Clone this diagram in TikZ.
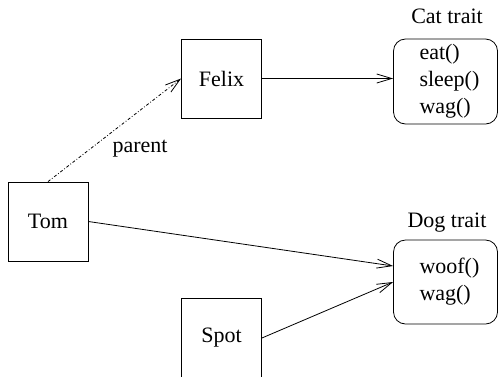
\documentclass[tikz,border=0pt]{standalone}
\usepackage{fontspec}
\setmainfont{Liberation Serif}
\usetikzlibrary{arrows.meta}
\begin{document}
\begin{tikzpicture}[x=1bp,y=-1bp,
  every node/.style={font=\fontsize{22bp}{27bp}\selectfont},
  objbox/.style={draw,line width=0.8bp,minimum width=80bp,minimum height=79bp,inner sep=0pt},
  traitbox/.style={draw,line width=0.8bp,rounded corners=12bp,minimum width=104bp,inner sep=0pt,align=left},
  conn/.style={line width=0.8bp,-{Straight Barb[length=15bp,width=9bp,line width=0.8bp]}},
  lbl/.style={inner sep=0pt}]
\useasboundingbox (0,0) rectangle (498,376);
\node[objbox] (felix) at (221.5,78.5) {Felix};
\node[objbox] (tom) at (48,221.5) {Tom};
\node[objbox] (spot) at (221.5,338) {Spot};
\node[traitbox,minimum height=85bp,text width=60bp] (cat) at (445.5,81.5) {\hspace*{4bp}eat()\\\hspace*{4bp}sleep()\\\hspace*{4bp}wag()};
\node[traitbox,minimum height=84bp,text width=60bp] (dog) at (445.5,282) {\hspace*{4bp}woof()\\\hspace*{4bp}wag()};
\node[lbl] (catlbl) at (447,16) {Cat trait};
\node[lbl] (doglbl) at (447,223) {Dog trait};
\node[lbl] (parentlbl) at (140,149) {parent};
\draw[conn] (felix.east) -- (felix.east -| cat.west);
\draw[conn] (tom.east) -- ([yshift=16bp]dog.west);
\draw[conn] (spot.east) -- (dog.west);
\draw[conn,dash dot] (tom.north) -- (felix.west);
\end{tikzpicture}
\end{document}
